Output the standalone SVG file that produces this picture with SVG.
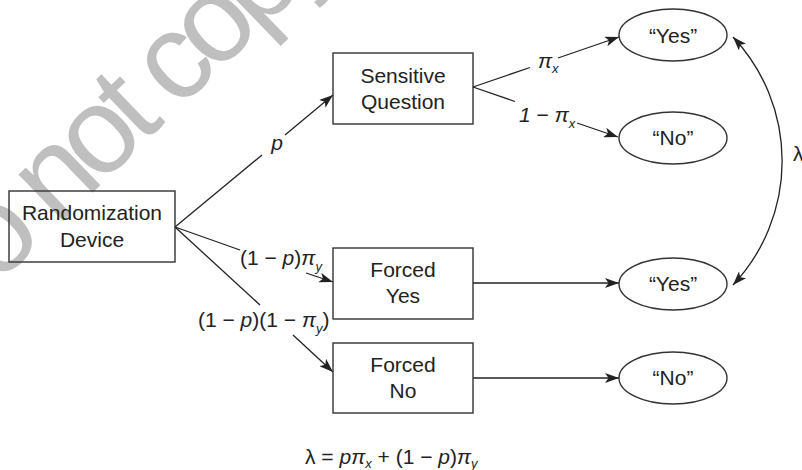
<svg xmlns="http://www.w3.org/2000/svg" width="802" height="470" viewBox="0 0 802 470">
<style>
  .box { fill: none; stroke: #333; stroke-width: 1.4; }
  .ell { fill: none; stroke: #333; stroke-width: 1.4; }
  .t { font-family: "Liberation Sans", Arial, sans-serif; font-size: 21px; fill: #222; }
  .c { text-anchor: middle; }
  .it { font-style: italic; }
  .sub { font-size: 13px; font-style: italic; }
  .ln { fill: none; stroke: #222; stroke-width: 1.3; }
  .wm { font-family: "Liberation Sans", Arial, sans-serif; font-size: 122px; letter-spacing: -9px; fill: #bfbfbf; }
</style>
<defs>
  <marker id="ah" viewBox="0 0 14 10" refX="14" refY="5" markerWidth="14" markerHeight="10" markerUnits="userSpaceOnUse" orient="auto-start-reverse">
    <path d="M0,0 L14,5 L0,10 L3.5,5 z" fill="#222"/>
  </marker>
</defs>
<rect width="802" height="470" fill="#fff"/>
<text class="wm" x="-60" y="340" transform="rotate(-44 -60 340)">Do not copy</text>

<g id="connectors">
  <path class="ln" d="M175,227 L262,155"/>
  <path class="ln" d="M285,135 L333,95" marker-end="url(#ah)"/>
  <path class="ln" d="M473,87 L530,67.5"/>
  <path class="ln" d="M558,58 L619,37" marker-end="url(#ah)"/>
  <path class="ln" d="M473,87 L515,101.5"/>
  <path class="ln" d="M577,123 L618,137" marker-end="url(#ah)"/>
  <path class="ln" d="M175,227 L240,250"/>
  <path class="ln" d="M306,273 L333,282" marker-end="url(#ah)"/>
  <path class="ln" d="M175,227 L260,305"/>
  <path class="ln" d="M293,335 L333,372" marker-end="url(#ah)"/>
  <path class="ln" d="M473,283 L619,283" marker-end="url(#ah)"/>
  <path class="ln" d="M473,378 L619,378" marker-end="url(#ah)"/>
  <path class="ln" d="M733,37 A181,181 0 0 1 733,285" marker-start="url(#ah)" marker-end="url(#ah)"/>
  <text class="t it c" x="277" y="150">p</text>
  <text class="t" x="538" y="68"><tspan class="it">π</tspan><tspan class="sub" dy="5">x</tspan></text>
  <text class="t" x="519" y="122"><tspan class="it">1</tspan> − <tspan class="it">π</tspan><tspan class="sub" dy="6">x</tspan></text>
  <text class="t" x="240" y="265">(1 − <tspan class="it">p</tspan>)<tspan class="it">π</tspan><tspan class="sub" dy="6">y</tspan></text>
  <text class="t" x="198" y="327">(1 − <tspan class="it">p</tspan>)(1 − <tspan class="it">π</tspan><tspan class="sub" dy="6">y</tspan><tspan dy="-6">)</tspan></text>
  <text class="t" x="793" y="161" font-size="15">λ</text>
</g>

<g id="randomization">
  <rect class="box" x="9" y="191" width="166" height="71"/>
  <text class="t c" x="92" y="220">Randomization</text>
  <text class="t c" x="92" y="247">Device</text>
</g>
<g id="sensitive">
  <rect class="box" x="333" y="53" width="140" height="71"/>
  <text class="t c" x="403" y="83">Sensitive</text>
  <text class="t c" x="403" y="109">Question</text>
</g>
<g id="forcedyes">
  <rect class="box" x="333" y="248" width="140" height="71"/>
  <text class="t c" x="403" y="277">Forced</text>
  <text class="t c" x="403" y="303">Yes</text>
</g>
<g id="forcedno">
  <rect class="box" x="333" y="343" width="140" height="70"/>
  <text class="t c" x="403" y="372">Forced</text>
  <text class="t c" x="403" y="398">No</text>
</g>
<g id="yes1">
  <ellipse class="ell" cx="673" cy="35" rx="54" ry="26"/>
  <text class="t c" x="673" y="43">“Yes”</text>
</g>
<g id="no1">
  <ellipse class="ell" cx="673" cy="138" rx="54" ry="26"/>
  <text class="t c" x="673" y="145">“No”</text>
</g>
<g id="yes2">
  <ellipse class="ell" cx="673" cy="284" rx="54" ry="26"/>
  <text class="t c" x="673" y="291">“Yes”</text>
</g>
<g id="no2">
  <ellipse class="ell" cx="673" cy="378" rx="54" ry="26"/>
  <text class="t c" x="673" y="385">“No”</text>
</g>
<g id="formula">
  <text class="t" x="305" y="464">λ = <tspan class="it">p</tspan><tspan class="it">π</tspan><tspan class="sub" dy="4">x</tspan><tspan dy="-4"> + (1 − </tspan><tspan class="it">p</tspan>)<tspan class="it">π</tspan><tspan class="sub" dy="4">y</tspan></text>
</g>
</svg>
